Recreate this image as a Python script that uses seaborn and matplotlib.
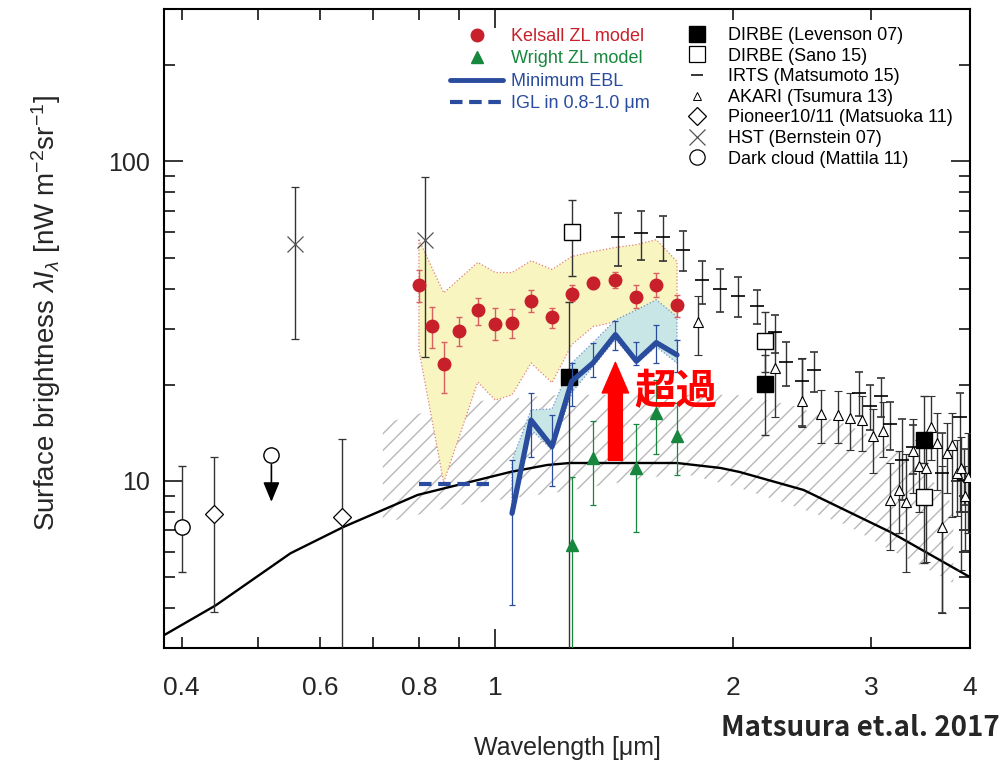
import numpy as np
import matplotlib
matplotlib.use("Agg")
import matplotlib.pyplot as plt
import seaborn as sns
from matplotlib.lines import Line2D
from matplotlib.ticker import LogLocator, FuncFormatter, NullFormatter

# ISL model curve (black)
isl_x = [0.38, 0.442, 0.55, 0.642, 0.797, 1.045, 1.164, 1.243, 1.70, 1.93, 2.04, 2.46, 3.17, 4.0]
isl_y = [3.29, 4.08, 5.94, 7.18, 9.04, 10.67, 11.22, 11.38, 11.38, 10.98, 10.67, 9.37, 6.92, 5.0]

# hatched band
hatch_x = [0.72, 0.90, 1.21, 1.72, 2.02, 2.37, 2.79, 3.17, 3.46, 3.81]
hatch_hi = [15.1, 17.6, 18.6, 18.6, 18.6, 17.3, 15.0, 13.0, 11.1, 8.4]
hatch_lo = [7.38, 8.41, 9.24, 10.6, 9.58, 8.41, 7.28, 6.08, 5.45, 4.79]

# Kelsall ZL model
kel_x = [0.80, 0.83, 0.86, 0.90, 0.95, 1.00, 1.05, 1.11, 1.18, 1.25, 1.33, 1.42, 1.51, 1.60, 1.70]
kel_y = [40.9, 30.6, 23.2, 29.5, 34.2, 31.1, 31.2, 36.7, 32.5, 38.6, 41.7, 42.7, 37.7, 41.1, 35.6]
kel_hi = [45.6, 35.0, 27.3, 32.7, 37.4, 34.8, 34.5, 39.5, 34.8, 40.9, 43.5, 45.1, 40.9, 44.6, 38.3]
kel_lo = [36.3, 26.1, 18.8, 26.4, 30.7, 27.7, 28.1, 33.8, 30.1, 36.7, 40.0, 40.2, 34.8, 37.7, 32.7]

zl_band_x = [0.80, 0.86, 0.95, 1.00, 1.05, 1.11, 1.18, 1.25, 1.33, 1.42, 1.51, 1.60, 1.70]
zl_band_hi = [56.9, 38.8, 48.3, 44.9, 44.9, 48.9, 45.9, 50.4, 52.2, 53.8, 54.9, 56.9, 48.6]
zl_band_lo = [25.7, 9.9, 20.4, 17.9, 18.6, 23.4, 20.3, 26.7, 30.4, 31.5, 33.1, 36.4, 32.4]

# Wright ZL model
wr_x = [1.25, 1.33, 1.51, 1.60, 1.70]
wr_y = [6.30, 11.8, 10.96, 16.3, 13.8]
wr_hi = [10.27, 15.4, 15.1, 20.7, 17.5]
wr_lo = [2.0, 8.41, 6.94, 12.1, 10.4]

# minimum EBL
ebl_x = [1.05, 1.11, 1.18, 1.25, 1.33, 1.42, 1.51, 1.60, 1.70]
ebl_y = [7.92, 15.5, 12.8, 20.5, 23.4, 28.7, 23.7, 27.1, 24.8]
ebl_hi = [11.6, 18.8, 16.1, 23.4, 27.0, 31.6, 27.3, 30.8, 27.7]
ebl_lo = [4.09, 11.9, 9.65, 17.1, 21.2, 25.7, 23.0, 23.4, 22.0]
ebl_band_hi = [11.6, 16.7, 16.8, 23.4, 27.1, 31.9, 34.3, 36.9, 32.7]
ebl_band_lo = [7.92, 14.5, 12.5, 18.9, 22.8, 27.7, 23.4, 26.3, 23.4]

# IGL in 0.8-1.0 um
igl_x = [0.80, 1.00]
igl_y = [9.8, 9.8]

# DIRBE (Levenson 07)
lev_x = [1.24, 2.2, 3.5]
lev_y = [21.2, 20.1, 13.4]
lev_hi = [36.2, 24.7, 18.4]
lev_lo = [2.0, 13.9, 11.4]

# DIRBE (Sano 15)
sano_x = [1.25, 2.2, 3.5]
sano_y = [60.0, 27.5, 8.93]
sano_hi = [76.0, 33.7, 10.8]
sano_lo = [43.9, 22.0, 5.55]

# IRTS (Matsumoto 15)
irts_x = [1.43, 1.53, 1.63, 1.73, 1.83, 1.93, 2.03, 2.15, 2.26, 2.34, 2.45, 2.54,
          2.89, 2.99, 3.08, 3.17, 3.28, 3.39, 3.69, 3.89, 3.93]
irts_y = [58.1, 59.8, 58.1, 53.0, 42.4, 40.0, 37.9, 35.4, 29.2, 23.6, 20.6, 22.3,
          18.9, 17.1, 18.5, 15.1, 11.6, 12.8, 10.6, 15.8, 10.1]
irts_hi = [69.1, 69.9, 67.4, 60.5, 48.7, 46.2, 43.4, 39.7, 33.1, 27.3, 24.1, 25.4,
           21.9, 19.9, 21.0, 17.7, 15.6, 15.0, 14.1, 18.8, 12.6]
irts_lo = [47.0, 49.3, 48.9, 45.3, 35.9, 33.9, 32.6, 31.1, 25.1, 19.8, 14.9, 19.0,
           16.0, 14.4, 15.9, 12.5, 8.72, 10.5, 3.86, 8.0, 8.4]

# AKARI (Tsumura 13)
akari_x = [1.81, 2.26, 2.45, 2.59, 2.72, 2.82, 2.92, 3.01, 3.10, 3.17, 3.25, 3.32,
           3.39, 3.45, 3.52, 3.57, 3.63, 3.69, 3.74, 3.80, 3.85, 3.90, 3.94, 3.98]
akari_y = [31.4, 22.5, 17.8, 16.2, 16.1, 15.7, 15.5, 13.8, 14.3, 8.72, 9.37, 8.61,
           12.4, 11.1, 10.96, 14.8, 13.1, 7.16, 12.2, 13.0, 10.6, 10.96, 8.97, 10.3]
akari_hi = [37.8, 29.2, 24.2, 19.3, 19.1, 18.9, 18.5, 16.8, 17.6, 11.4, 12.4, 12.1,
            15.6, 13.4, 13.6, 18.4, 16.3, 11.1, 15.2, 16.3, 13.4, 13.7, 11.1, 14.1]
akari_lo = [24.8, 15.8, 14.8, 13.1, 13.1, 12.5, 12.4, 10.6, 11.9, 6.08, 6.86, 5.20,
            9.15, 8.01, 5.58, 11.6, 9.37, 3.85, 9.15, 7.73, 7.76, 5.26, 6.08, 6.86]

# Pioneer10/11 (Matsuoka 11)
pio_x = [0.44, 0.64]
pio_y = [7.88, 7.69]
pio_hi = [11.92, 13.5]
pio_lo = [3.89, 2.0]

# HST (Bernstein 07)
hst_x = [0.557, 0.815]
hst_y = [55.3, 56.9]
hst_hi = [83.0, 89.3]
hst_lo = [27.8, 24.4]

# Dark cloud (Mattila 11)
mat_x = [0.40]
mat_y = [7.17]
mat_hi = [11.14]
mat_lo = [5.19]
mat_ul_x = 0.52
mat_ul_y = 12.06
mat_ul_tip = 8.6

# "excess" arrow
exc_x = 1.42
exc_from = 11.6
exc_to = 23.5

RED = "#c8202a"
RED_ERR = "#d86060"
GREEN = "#18873e"
BLUE = "#2a4c9e"
GREY = "#333333"

sns.set_theme(style="ticks")
plt.rcParams["font.family"] = ["Liberation Sans", "DejaVu Sans"]
plt.rcParams["mathtext.fontset"] = "custom"
plt.rcParams["mathtext.rm"] = "Liberation Sans"
plt.rcParams["mathtext.it"] = "Liberation Sans:italic"
plt.rcParams["hatch.linewidth"] = 1.0
plt.rcParams["hatch.color"] = "#b8b8b8"


def err(x, y, lo, hi, **kw):
    x, y, lo, hi = map(np.asarray, (x, y, lo, hi))
    return ax.errorbar(x, y, yerr=[y - lo, hi - y], **kw)


fig = plt.figure(figsize=(10.02, 7.61), dpi=100)
ax = fig.add_axes([164 / 1002, 1 - 648 / 761, (970 - 164) / 1002, (648 - 9) / 761])
ax.set_xscale("log")
ax.set_yscale("log")

# bands
ax.fill_between(hatch_x, hatch_lo, hatch_hi, facecolor="none", edgecolor="#b8b8b8",
                hatch="//", linewidth=0, zorder=1)
ax.fill_between(zl_band_x, zl_band_lo, zl_band_hi, facecolor="#f8f5c0",
                edgecolor="#e08080", linestyle=":", linewidth=0.9, zorder=2)
ax.fill_between(ebl_x, ebl_band_lo, ebl_band_hi, facecolor="#c8e6e6",
                edgecolor="#7090d0", linestyle=":", linewidth=0.9, zorder=2.5)

# ISL curve
sns.lineplot(x=isl_x, y=isl_y, color="black", lw=1.7, sort=False, ax=ax, zorder=3)

# IGL
ax.plot(igl_x, igl_y, color=BLUE, lw=3, linestyle=(0, (3, 1.6)), zorder=4)

# black data sets
eb = dict(ecolor=GREY, elinewidth=1.0, capsize=3, capthick=1.0, zorder=5)
err(mat_x, mat_y, mat_lo, mat_hi, fmt="o", ms=11, mfc="white", mec="black", mew=1.0, **eb)
err(pio_x, pio_y, pio_lo, pio_hi, fmt="D", ms=9, mfc="white", mec="black", mew=0.9, **eb)
err(hst_x, hst_y, hst_lo, hst_hi, fmt="x", ms=12, mec="#555555", mew=0.9, **eb)
err(irts_x, irts_y, irts_lo, irts_hi, fmt="_", ms=10, mec="black", mew=1.2, **eb)
err(akari_x, akari_y, akari_lo, akari_hi, fmt="^", ms=7.5, mfc="white", mec="black", mew=0.8, **eb)
err(sano_x, sano_y, sano_lo, sano_hi, fmt="s", ms=12, mfc="white", mec="black", mew=1.0, **eb)
err(lev_x, lev_y, lev_lo, lev_hi, fmt="s", ms=12, mfc="black", mec="black", **eb)

ax.plot([mat_ul_x], [mat_ul_y], "o", ms=11, mfc="white", mec="black", mew=1.0, zorder=5)
ax.annotate("", xy=(mat_ul_x, mat_ul_tip), xytext=(mat_ul_x, mat_ul_y),
            arrowprops=dict(arrowstyle="-|>,head_length=0.6,head_width=0.25",
                            color="black", lw=1.2, mutation_scale=20,
                            shrinkA=7, shrinkB=0), zorder=5)

# ZL models
err(kel_x, kel_y, kel_lo, kel_hi, fmt="o", ms=9, color=RED, ecolor=RED_ERR,
    elinewidth=1.0, capsize=2.5, capthick=1.0, zorder=6)
err(wr_x, wr_y, wr_lo, wr_hi, fmt="^", ms=9, color=GREEN, ecolor=GREEN,
    elinewidth=0.9, capsize=2.5, capthick=0.9, zorder=6)

# minimum EBL
err(ebl_x, ebl_y, ebl_lo, ebl_hi, fmt="none", ecolor=BLUE, elinewidth=0.9,
    capsize=2.5, capthick=0.9, zorder=6)
sns.lineplot(x=ebl_x, y=ebl_y, color=BLUE, lw=3.8, sort=False, ax=ax, zorder=7)

# excess arrow + label
ax.annotate("", xy=(exc_x, exc_to), xytext=(exc_x, exc_from),
            arrowprops=dict(arrowstyle="simple,head_width=0.95,head_length=1.1,tail_width=0.5",
                            color="#ff0000", mutation_scale=20, shrinkA=0, shrinkB=0),
            zorder=9)
ax.text(1.50, 19.0, "超過", color="#ff0000", fontsize=30, fontweight="bold",
        family=["Noto Sans CJK JP", "DejaVu Sans"], ha="left", va="center", zorder=9)

# axes
ax.set_xlim(0.38, 4.0)
ax.set_ylim(3, 300)
ax.xaxis.set_major_locator(LogLocator(base=10))
ax.xaxis.set_minor_locator(LogLocator(base=10, subs=np.arange(2, 10)))
ax.xaxis.set_major_formatter(FuncFormatter(lambda v, p: f"{v:g}"))
shown = {0.4, 0.6, 0.8, 2.0, 3.0, 4.0}
ax.xaxis.set_minor_formatter(FuncFormatter(
    lambda v, p: f"{v:g}" if round(v, 3) in shown else ""))
ax.yaxis.set_major_locator(LogLocator(base=10))
ax.yaxis.set_minor_locator(LogLocator(base=10, subs=np.arange(2, 10)))
ax.yaxis.set_major_formatter(FuncFormatter(lambda v, p: f"{v:g}"))
ax.yaxis.set_minor_formatter(NullFormatter())

ax.tick_params(which="both", direction="in", top=True, right=True, width=1.1, color="black")
ax.tick_params(which="major", length=14)
ax.tick_params(which="minor", length=8)
ax.tick_params(axis="x", which="both", labelsize=19, pad=20)
ax.tick_params(axis="y", which="both", labelsize=18, pad=10)
for s in ax.spines.values():
    s.set_linewidth(1.5)
    s.set_color("black")

ax.set_xlabel("Wavelength [μm]", fontsize=18, labelpad=26)
ax.set_ylabel(r"Surface brightness $\lambda I_\lambda$ [nW m$^{-2}$sr$^{-1}$]", fontsize=20)
ax.yaxis.set_label_coords(-0.125, 0.524)

fig.text(1000 / 1002, 1 - 728 / 761, "Matsuura et.al. 2017", ha="right", va="center",
         fontsize=20, fontweight="bold", family=["Noto Sans CJK JP", "DejaVu Sans"])

# legends
left_handles = [
    Line2D([], [], marker="o", ls="none", ms=9, color=RED),
    Line2D([], [], marker="^", ls="none", ms=9, color=GREEN),
    Line2D([], [], color=BLUE, lw=3.5),
    Line2D([], [], color=BLUE, lw=3, linestyle=(0, (3, 1.6))),
]
left_labels = ["Kelsall ZL model", "Wright ZL model", "Minimum EBL", "IGL in 0.8-1.0 μm"]
leg1 = ax.legend(left_handles, left_labels, loc="upper left",
                 bbox_to_anchor=(450 / 1002, 1 - 28 / 761), bbox_transform=fig.transFigure,
                 frameon=False, fontsize=13, handlelength=2.95, handletextpad=0.43,
                 labelspacing=0.3, borderpad=0, borderaxespad=0,
                 labelcolor=[RED, GREEN, BLUE, BLUE])
ax.add_artist(leg1)

right_handles = [
    Line2D([], [], marker="s", ls="none", ms=11, mfc="black", mec="black"),
    Line2D([], [], marker="s", ls="none", ms=11, mfc="white", mec="black", mew=0.9),
    Line2D([], [], marker="_", ls="none", ms=8, mec="black", mew=1.1),
    Line2D([], [], marker="^", ls="none", ms=6, mfc="white", mec="black", mew=0.7),
    Line2D([], [], marker="D", ls="none", ms=9, mfc="white", mec="black", mew=0.9),
    Line2D([], [], marker="x", ls="none", ms=12, mec="#555555", mew=0.9),
    Line2D([], [], marker="o", ls="none", ms=11, mfc="white", mec="black", mew=0.9),
]
right_labels = ["DIRBE (Levenson 07)", "DIRBE (Sano 15)", "IRTS (Matsumoto 15)",
                "AKARI (Tsumura 13)", "Pioneer10/11 (Matsuoka 11)", "HST (Bernstein 07)",
                "Dark cloud (Mattila 11)"]
ax.legend(right_handles, right_labels, loc="upper left",
          bbox_to_anchor=(679 / 1002, 1 - 27 / 761), bbox_transform=fig.transFigure,
          frameon=False, fontsize=13, handlelength=2.0, handletextpad=0.7,
          labelspacing=0.2, borderpad=0, borderaxespad=0, labelcolor="black")

fig.savefig("out.png", dpi=100)
